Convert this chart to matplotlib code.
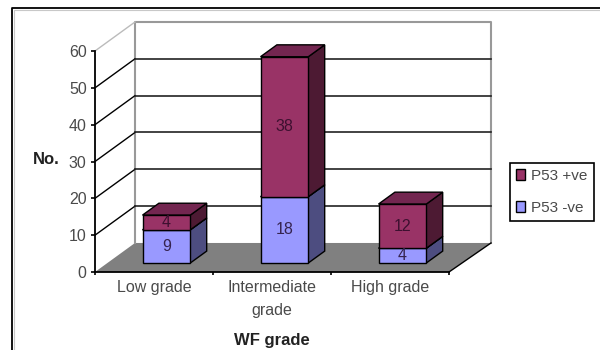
import matplotlib.pyplot as plt
from matplotlib.lines import Line2D
import numpy as np

categories = ["Low grade", "Intermediate\ngrade", "High grade"]
neg_counts = [9, 18, 4]
pos_counts = [4, 38, 12]
y_ticks = [0, 10, 20, 30, 40, 50, 60]

# oblique depth of the 3d box, in data units
depth_x = 40 / 118
depth_y = 29 / 3.68
bar_front = 0.31
bar_back = 0.72
bar_width = 0.405

neg_color = ("#9999ff", "#4d4d80", "#4d4d80")
pos_color = ("#993366", "#4d1a33", "#732650")
text_color = "#4a4a4a"

plt.rcParams["font.family"] = ["Liberation Sans", "DejaVu Sans"]
plt.rcParams["font.size"] = 11.5

fig = plt.figure(figsize=(6, 3.5), dpi=100)
ax = fig.add_axes([95 / 600, 78 / 350, 354 / 600, 221 / 350])
ax.set_xlim(0, 3)
ax.set_ylim(0, 60)
ax.patch.set_alpha(0)


def box(ax, x, bottom, height, colors):
    # front face plus the two receding faces of one stacked segment
    x0 = x - bar_width / 2 + bar_front * depth_x
    x1 = x0 + bar_width
    y0 = bottom + bar_front * depth_y
    y1 = y0 + height
    dx = (bar_back - bar_front) * depth_x
    dy = (bar_back - bar_front) * depth_y
    ax.fill([x1, x1 + dx, x1 + dx, x1], [y0, y0 + dy, y1 + dy, y1],
            facecolor=colors[1], edgecolor="black", linewidth=1, zorder=4, clip_on=False)
    ax.fill([x0, x0 + dx, x1 + dx, x1], [y1, y1 + dy, y1 + dy, y1],
            facecolor=colors[2], edgecolor="black", linewidth=1, zorder=4, clip_on=False)
    bars = ax.bar(x0 + bar_width / 2, height, bar_width, bottom=y0, color=colors[0],
                  edgecolor="black", linewidth=1, zorder=5, clip_on=False)
    ax.text(x0 + bar_width / 2, y0 + height / 2, str(height), ha="center", va="center",
            color="#35234f" if colors is neg_color else "#3d1030", zorder=6)
    return bars


# floor and back wall
ax.fill([0, 3, 3 + depth_x * 1.05, depth_x], [0, 0, depth_y, depth_y],
        facecolor="#808080", edgecolor="none", zorder=1, clip_on=False)
wall_x = [depth_x, depth_x, 3 + depth_x * 1.05, 3 + depth_x * 1.05]
wall_y = [depth_y, 60 + depth_y, 60 + depth_y, depth_y]
ax.plot(wall_x, wall_y, color="#999999", linewidth=1.5, zorder=2, clip_on=False)

for v in y_ticks[1:]:
    col = "#bbbbbb" if v == 60 else "black"
    ax.plot([0, depth_x], [v, v + depth_y], color=col, linewidth=1, zorder=2, clip_on=False)
    if v < 60:
        ax.plot([depth_x, 3 + depth_x * 1.05], [v + depth_y, v + depth_y],
                color="#222222", linewidth=1.2, zorder=2, clip_on=False)
ax.plot([3, 3 + depth_x * 1.05], [0, depth_y], color="black", linewidth=1, zorder=2, clip_on=False)

for i in range(len(categories)):
    neg = box(ax, i + 0.5, 0, neg_counts[i], neg_color)
    pos = box(ax, i + 0.5, neg_counts[i], pos_counts[i], pos_color)

for side in ["top", "right"]:
    ax.spines[side].set_visible(False)
for side in ["left", "bottom"]:
    ax.spines[side].set_linewidth(1.3)
    ax.spines[side].set_zorder(3)

ax.set_yticks(y_ticks)
ax.tick_params(axis="y", length=3, width=1.2, pad=3, labelcolor=text_color, labelsize=11.5)
ax.set_xticks([0, 1, 2, 3])
ax.set_xticklabels([])
ax.tick_params(axis="x", which="major", length=2, width=1.2)
ax.set_xticks([0.5, 1.5, 2.5], minor=True)
ax.set_xticklabels(categories, minor=True, linespacing=1.6, color=text_color, fontsize=11.5)
ax.tick_params(axis="x", which="minor", length=0, pad=6)

ax.set_ylabel("No.", rotation=0, fontweight="bold", fontsize=12, color="#222222",
              ha="center", va="center")
ax.yaxis.set_label_coords(-0.138, 0.507)
ax.set_xlabel("WF grade", fontweight="bold", fontsize=12, color="#222222", va="center")
ax.xaxis.set_label_coords(0.5, -0.308)

leg = fig.legend([pos, neg], ["P53 +ve", "P53 -ve"], loc="upper left",
                 bbox_to_anchor=(510 / 600, 1 - 163 / 350), bbox_transform=fig.transFigure,
                 fancybox=False, framealpha=1, edgecolor="black", labelcolor=text_color,
                 fontsize=11, handlelength=0.55, handleheight=0.7, handletextpad=0.45,
                 labelspacing=1.15, borderaxespad=0, borderpad=0.4)
leg.get_frame().set_linewidth(1.2)

# outer chart frame, running off the right and bottom edges
fig.add_artist(Line2D([12 / 600, 12 / 600, 1], [0, 1 - 8 / 350, 1 - 8 / 350],
                      color="black", linewidth=1.3))
fig.add_artist(Line2D([13.5 / 600, 13.5 / 600, 1], [0, 1 - 9.5 / 350, 1 - 9.5 / 350],
                      color="#c8c8c8", linewidth=0.8))

fig.savefig("out.png", dpi=100)
